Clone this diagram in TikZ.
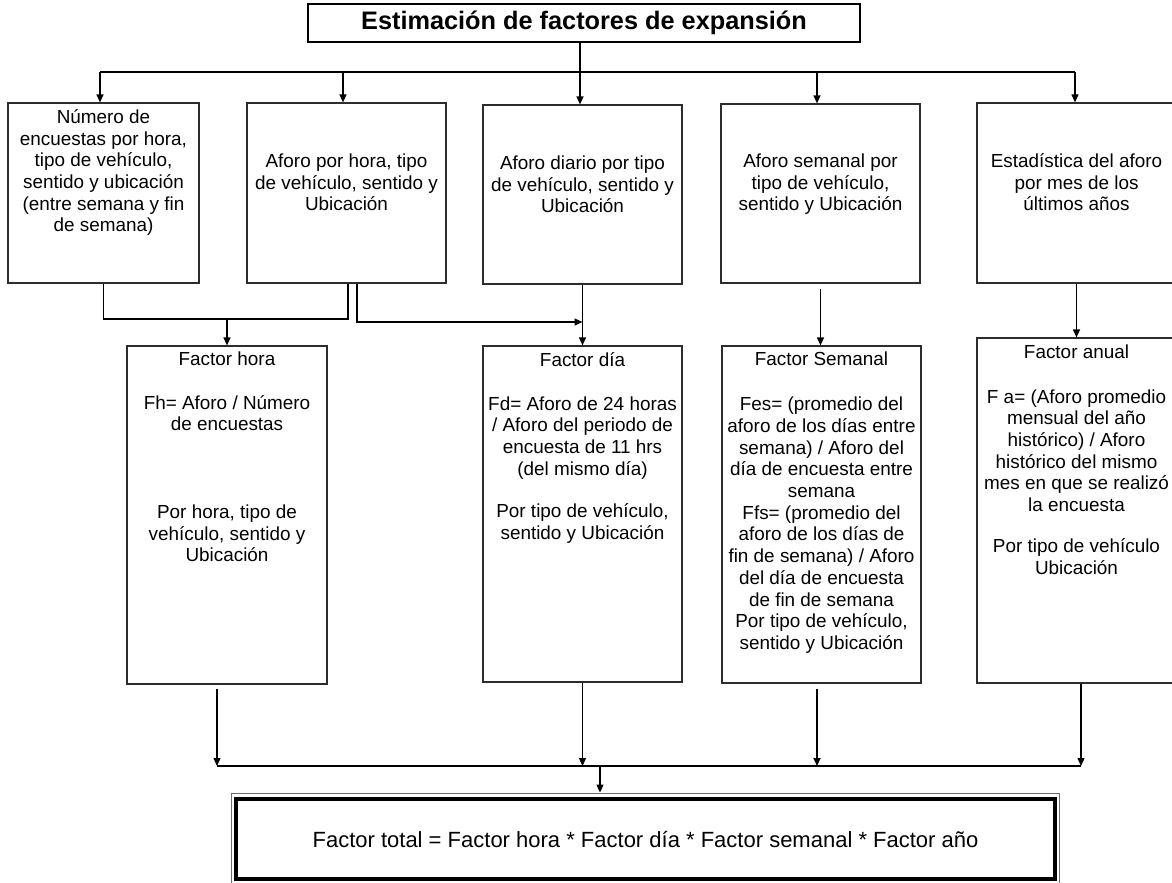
\documentclass[tikz,border=0pt]{standalone}
\usepackage{fontspec}
\setmainfont{Liberation Sans}
\usetikzlibrary{
  arrows.meta,
  calc,
  positioning
}
\definecolor{tinta}{RGB}{0,0,0}
\definecolor{borde}{RGB}{45,45,45}
\definecolor{marcogris}{RGB}{110,110,110}
\tikzset{
  caja/.style={draw=borde,line width=1.2pt,inner sep=0pt},
  titulo/.style={draw=tinta,line width=1.4pt,inner sep=0pt,
    minimum width=552pt,minimum height=38pt,
    font=\fontsize{25.3}{28}\selectfont\bfseries},
  texto/.style={align=center,inner sep=0pt,anchor=base,
    font=\fontsize{18.9}{21.7}\selectfont},
  marco/.style={draw=marcogris,line width=0.9pt,inner sep=0pt},
  total/.style={draw=tinta,line width=3.6pt,inner sep=0pt,
    font=\fontsize{22}{26}\selectfont},
  flecha/.style={-{Triangle[length=8pt,width=7pt]},line width=1.2pt,draw=tinta},
  linea/.style={line width=1.2pt,draw=tinta},
  barra/.style={line width=2.2pt,draw=tinta}
}

\begin{document}
\begin{tikzpicture}[x=1pt,y=-1pt]
  \useasboundingbox (0,0) rectangle (1172,883);
  \node[titulo] (est) at (584,23) {Estimación de factores de expansión};
  \node[caja,minimum width=191pt,minimum height=180pt] (num) at (103.5,193) {};
  \node[caja,minimum width=199pt,minimum height=180pt] (afh) at (346.5,193) {};
  \node[caja,minimum width=199pt,minimum height=179pt] (afd) at (582.5,194.5) {};
  \node[caja,minimum width=199pt,minimum height=179pt] (afs) at (820.5,193.5) {};
  \node[caja,minimum width=199pt,minimum height=180pt] (hist) at (1076.5,193) {};
  \node[texto] (tnum) at ($(num.north)+(0,129.5)$) {Número de\\ encuestas por hora,\\
    tipo de vehículo,\\ sentido y ubicación\\ (entre semana y fin\\ de semana)};
  \node[texto] (tafh) at ($(afh.north)+(0,108.4)$) {Aforo por hora, tipo\\
    de vehículo, sentido y\\ Ubicación};
  \node[texto] (tafd) at ($(afd.north)+(0,108.4)$) {Aforo diario por tipo\\
    de vehículo, sentido y\\ Ubicación};
  \node[texto] (tafs) at ($(afs.north)+(0,107.4)$) {Aforo semanal por\\
    tipo de vehículo,\\ sentido y Ubicación};
  \node[texto] (thist) at ($(hist.north)+(0,108.4)$) {Estadística del aforo\\
    por mes de los\\ últimos años};

  \node[caja,minimum width=200pt,minimum height=338pt] (fh) at (227,515) {};
  \node[caja,minimum width=199pt,minimum height=336pt] (fd) at (582.5,514) {};
  \node[caja,minimum width=199pt,minimum height=337pt] (fs) at (821.5,514.5) {};
  \node[caja,minimum width=199pt,minimum height=345pt] (fa) at (1076.5,510.5) {};
  \node[texto] (tfh) at ($(fh.north)+(0,216.5)$) {Factor hora\\[22pt]
    Fh= Aforo / Número\\ de encuestas\\[66pt]
    Por hora, tipo de\\ vehículo, sentido y\\ Ubicación};
  \node[texto] (tfd) at ($(fd.north)+(0,194.2)$) {Factor día\\[22pt]
    Fd= Aforo de 24 horas\\ / Aforo del periodo de\\ encuesta de 11 hrs\\
    (del mismo día)\\[21pt] Por tipo de vehículo,\\ sentido y Ubicación};
  \node[texto] (tfs) at ($(fs.north)+(0,304)$) {Factor Semanal\\[24pt]
    Fes= (promedio del\\ aforo de los días entre\\ semana) / Aforo del\\
    día de encuesta entre\\ semana\\ Ffs= (promedio del\\ aforo de los días de\\
    fin de semana) / Aforo\\ del día de encuesta\\ de fin de semana\\
    Por tipo de vehículo,\\ sentido y Ubicación};
  \node[texto] (tfa) at ($(fa.north)+(0,236.6)$) {Factor anual\\[23pt]
    F a= (Aforo promedio\\ mensual del año\\ histórico) / Aforo\\
    histórico del mismo\\ mes en que se realizó\\ la encuesta\\[19pt]
    Por tipo de vehículo\\ Ubicación};

  \node[marco,minimum width=828pt,minimum height=91pt] (marc) at (645,838.5) {};
  \node[total,minimum width=819pt,minimum height=80pt] (tot) at (645.5,839)
    {Factor total = Factor hora * Factor día * Factor semanal * Factor año};

  \coordinate (bus) at (580,72);
  \coordinate (busL) at (100,72);
  \coordinate (busR) at (1075,72);
  \draw[linea,line width=1.6pt] (est.south -| bus) -- (bus);
  \draw[linea,line width=1.6pt] (busL) -- (busR);
  \foreach \x/\n in {100/num,343/afh,580/afd,817/afs,1075/hist}
    \draw[flecha] (\x,72) -- (\x,72 |- \n.north);

  \coordinate (m1) at (227,319);
  \draw[linea] (num.south) |- (m1);
  \draw[linea] ([xshift=1.5pt]afh.south) |- (m1);
  \draw[flecha] (m1) -- (fh.north);
  \draw[flecha] ([xshift=10.5pt]afh.south) |- (afd.south |- 0,322);
  \draw[flecha] (afd.south) -- (fd.north);
  \draw[flecha] ([yshift=-5pt]afs.south) -- (afs.south |- fs.north);
  \draw[flecha] (hist.south) -- (hist.south |- fa.north);

  \coordinate (ba) at (217,766);
  \coordinate (bb) at (1081,766);
  \coordinate (bc) at (600,766);
  \draw[flecha] ([xshift=-10pt,yshift=-4pt]fh.south) -- (ba);
  \draw[flecha] (fd.south) -- (fd.south |- ba);
  \draw[flecha,line width=1.7pt] ([xshift=-4.5pt,yshift=-5pt]fs.south)
    -- ([xshift=-4.5pt]fs.south |- ba);
  \draw[flecha] ([xshift=4.5pt]fa.south) -- (bb);
  \draw[barra] (ba) -- (bb);
  \draw[flecha] (bc) -- (bc |- marc.north);
\end{tikzpicture}
\end{document}
